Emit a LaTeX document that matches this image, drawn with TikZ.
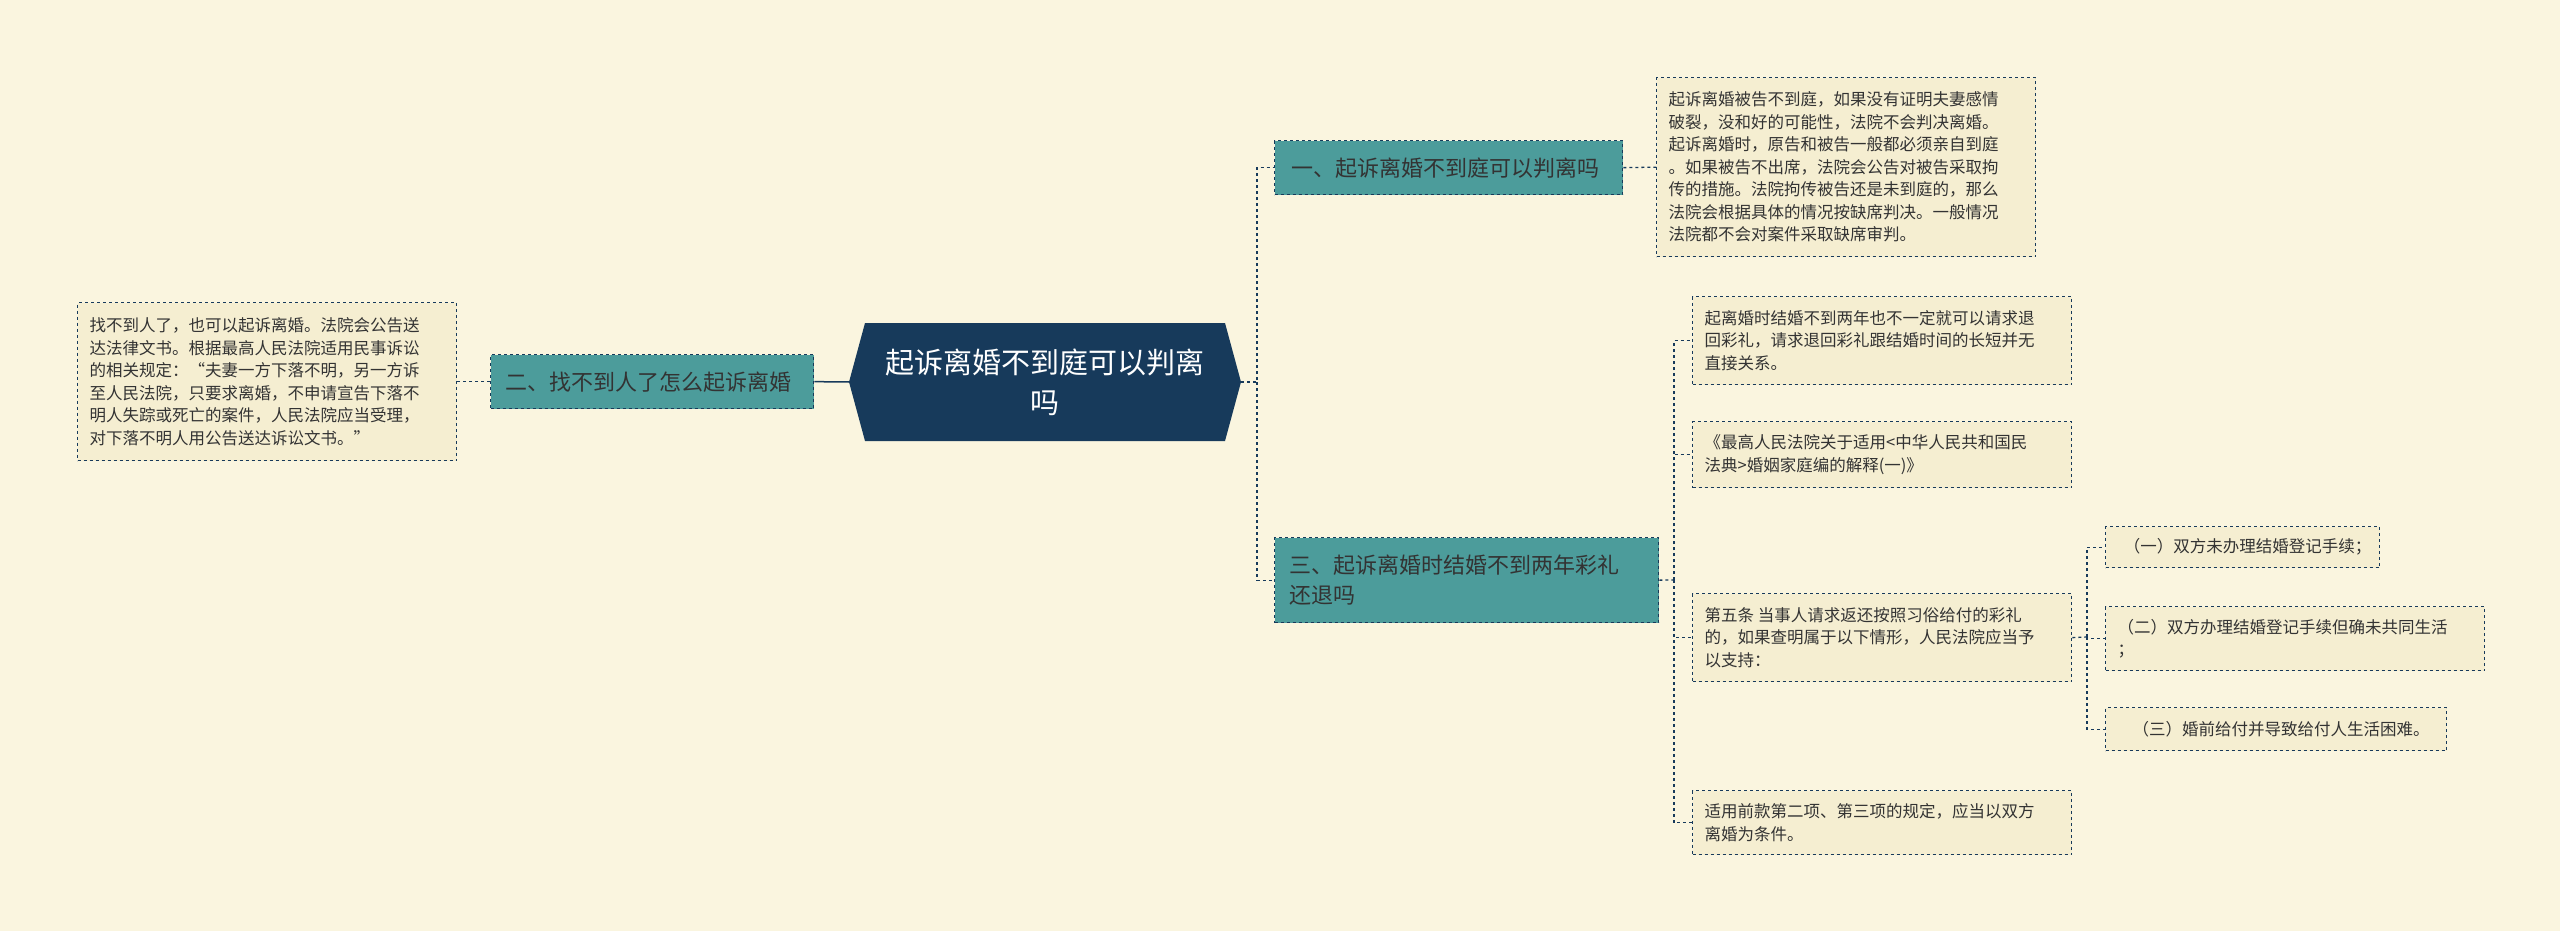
\documentclass[tikz,border=0pt]{standalone}
\usepackage{fontspec}
\setmainfont{Noto Sans CJK SC}
\definecolor{bg}{HTML}{FAF5DF}
\definecolor{navy}{HTML}{173A5B}
\definecolor{teal}{HTML}{4C9C9B}
\definecolor{leaf}{HTML}{F5EED1}
\definecolor{txt}{HTML}{333333}
\begin{document}
\begin{tikzpicture}[x=1pt,y=-1pt,
  leafbox/.style={draw=navy,dashed,line width=1.3pt,fill=leaf,text=txt,font=\fontsize{16.5}{22.5}\selectfont,align=left,inner sep=0pt,anchor=north west},
  branch/.style={draw=navy,dashed,line width=1.3pt,fill=teal,text=txt,font=\fontsize{22}{30}\selectfont,align=left,inner sep=0pt,anchor=north west},
  conn/.style={draw=navy,dashed,line width=1.3pt}]
\fill[bg] (0,0) rectangle (2560,931);
\useasboundingbox (0,0) rectangle (2560,931);
% center
\fill[navy] (849,382) -- (865,323) -- (1225,323) -- (1241,382) -- (1225,441) -- (865,441) -- cycle;
\node[text=white,font=\fontsize{29}{40}\selectfont,align=center] (c) at (1045,382) {起诉离婚不到庭可以判离\\吗};
\coordinate (cl) at (849,382);
\coordinate (cr) at (1241,382);
% branches
\node[branch,minimum width=348,minimum height=54,text width=338] (b1) at (1274,140) {\hspace*{12pt}一、起诉离婚不到庭可以判离吗};
\node[branch,minimum width=323,minimum height=54,text width=313] (b2) at (490,354) {\hspace*{10pt}二、找不到人了怎么起诉离婚};
\node[branch,minimum width=384,minimum height=85,text width=370] (b3) at (1274,537) {\hspace*{8pt}\parbox{370pt}{三、起诉离婚时结婚不到两年彩礼\\还退吗}};
% leaves
\node[leafbox,minimum width=379,minimum height=179] (t1) at (1656,77) {\hspace*{10pt}\parbox{365pt}{起诉离婚被告不到庭，如果没有证明夫妻感情\\破裂，没和好的可能性，法院不会判决离婚。\\起诉离婚时，原告和被告一般都必须亲自到庭\\。如果被告不出席，法院会公告对被告采取拘\\传的措施。法院拘传被告还是未到庭的，那么\\法院会根据具体的情况按缺席判决。一般情况\\法院都不会对案件采取缺席审判。}};
\node[leafbox,minimum width=379,minimum height=158] (l0) at (77,302) {\hspace*{10pt}\parbox{365pt}{找不到人了，也可以起诉离婚。法院会公告送\\达法律文书。根据最高人民法院适用民事诉讼\\的相关规定：“夫妻一方下落不明，另一方诉\\至人民法院，只要求离婚，不申请宣告下落不\\明人失踪或死亡的案件，人民法院应当受理，\\对下落不明人用公告送达诉讼文书。”}};
\node[leafbox,minimum width=379,minimum height=88] (r1) at (1692,296) {\hspace*{10pt}\parbox{365pt}{起离婚时结婚不到两年也不一定就可以请求退\\回彩礼，请求退回彩礼跟结婚时间的长短并无\\直接关系。}};
\node[leafbox,minimum width=379,minimum height=66] (r2) at (1692,421) {\hspace*{10pt}\parbox{365pt}{《最高人民法院关于适用<中华人民共和国民\\法典>婚姻家庭编的解释(一)》}};
\node[leafbox,minimum width=379,minimum height=88] (r3) at (1692,593) {\hspace*{10pt}\parbox{365pt}{第五条 当事人请求返还按照习俗给付的彩礼\\的，如果查明属于以下情形，人民法院应当予\\以支持：}};
\node[leafbox,minimum width=379,minimum height=64] (r4) at (1692,790) {\hspace*{10pt}\parbox{365pt}{适用前款第二项、第三项的规定，应当以双方\\离婚为条件。}};
\node[leafbox,minimum width=274,minimum height=41] (s1) at (2105,526) {\hspace*{10pt}（一）双方未办理结婚登记手续；};
\node[leafbox,minimum width=379,minimum height=64] (s2) at (2105,606) {\hspace*{10pt}\parbox{365pt}{（二）双方办理结婚登记手续但确未共同生活\\；}};
\node[leafbox,minimum width=341,minimum height=43] (s3) at (2105,707) {\hspace*{10pt}（三）婚前给付并导致给付人生活困难。};
% connectors
\draw[navy,line width=1.5pt] (cl) -- (b2.east);
\draw[conn] (b2.west) -- (l0.east);
\coordinate (bus) at (1257,382);
\draw[conn] (cr) -- (bus) |- (b1.west);
\draw[conn] (bus) |- (b3.west);
\draw[conn] (b1.east) -- (t1.west);
\coordinate (bus2) at (1674,580);
\draw[conn] (b3.east) -- (bus2);
\draw[conn] (bus2) |- (r1.west);
\draw[conn] (bus2) |- (r2.west);
\draw[conn] (bus2) |- (r3.west);
\draw[conn] (bus2) |- (r4.west);
\coordinate (bus3) at (2087,637);
\draw[conn] (r3.east) -- (bus3);
\draw[conn] (bus3) |- (s1.west);
\draw[conn] (bus3) |- (s2.west);
\draw[conn] (bus3) |- (s3.west);
\end{tikzpicture}
\end{document}
